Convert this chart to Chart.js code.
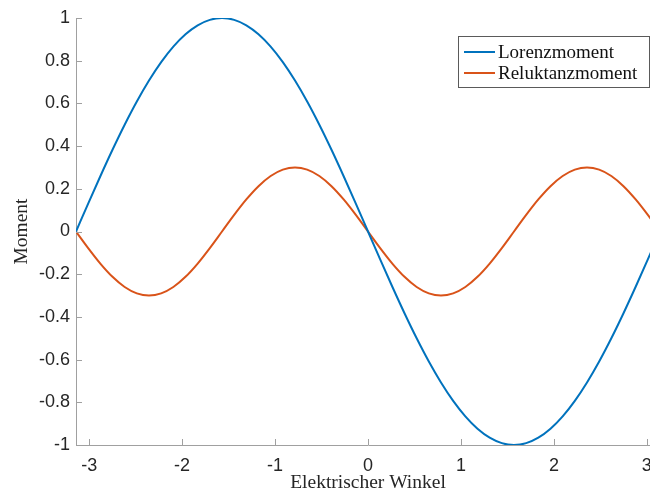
<!DOCTYPE html>
<html>
<head>
<meta charset="utf-8">
<script src="https://cdn.jsdelivr.net/npm/chart.js@4"></script>
<style>
html,body{margin:0;padding:0;overflow:hidden;background:#fff;width:650px;height:495px;}
#wrap{position:absolute;left:0;top:0;width:680px;height:495px;}
</style>
</head>
<body>
<div id="wrap"><canvas id="c" width="680" height="495"></canvas></div>
<script>
// Electrical angle samples (rad)
const winkel = [-3.1416,-3.0107,-2.8798,-2.7489,-2.6180,-2.4871,-2.3562,-2.2253,-2.0944,-1.9635,-1.8326,-1.7017,-1.5708,-1.4399,-1.3090,-1.1781,-1.0472,-0.9163,-0.7854,-0.6545,-0.5236,-0.3927,-0.2618,-0.1309,0,0.1309,0.2618,0.3927,0.5236,0.6545,0.7854,0.9163,1.0472,1.1781,1.3090,1.4399,1.5708,1.7017,1.8326,1.9635,2.0944,2.2253,2.3562,2.4871,2.6180,2.7489,2.8798,3.0107,3.1416];
const lorenzmoment = [0,0.1305,0.2588,0.3827,0.5,0.6088,0.7071,0.7934,0.8660,0.9239,0.9659,0.9914,1,0.9914,0.9659,0.9239,0.8660,0.7934,0.7071,0.6088,0.5,0.3827,0.2588,0.1305,0,-0.1305,-0.2588,-0.3827,-0.5,-0.6088,-0.7071,-0.7934,-0.8660,-0.9239,-0.9659,-0.9914,-1,-0.9914,-0.9659,-0.9239,-0.8660,-0.7934,-0.7071,-0.6088,-0.5,-0.3827,-0.2588,-0.1305,0];
const reluktanzmoment = [0,-0.0776,-0.15,-0.2121,-0.2598,-0.2898,-0.3,-0.2898,-0.2598,-0.2121,-0.15,-0.0776,0,0.0776,0.15,0.2121,0.2598,0.2898,0.3,0.2898,0.2598,0.2121,0.15,0.0776,0,-0.0776,-0.15,-0.2121,-0.2598,-0.2898,-0.3,-0.2898,-0.2598,-0.2121,-0.15,-0.0776,0,0.0776,0.15,0.2121,0.2598,0.2898,0.3,0.2898,0.2598,0.2121,0.15,0.0776,0];
const xTicks = [-3,-2,-1,0,1,2,3];
const yTicks = [-1,-0.8,-0.6,-0.4,-0.2,0,0.2,0.4,0.6,0.8,1];
const seriesNames = ['Lorenzmoment','Reluktanzmoment'];
const seriesColors = ['#0072BD','#D95319'];

const toPts = ys => winkel.map((x,i)=>({x:x,y:ys[i]}));

const AXIS_COLOR = '#a0a0a0';
const TEXT_COLOR = '#262626';
const SERIF = '"Liberation Serif", "Times New Roman", serif';
const SANS = '"Liberation Sans", Arial, sans-serif';

const inwardTicks = {
  id:'inwardTicks',
  afterDraw(chart){
    const ctx = chart.ctx, a = chart.chartArea;
    const xs = chart.scales.x, ys = chart.scales.y;
    ctx.save();
    ctx.strokeStyle = AXIS_COLOR; ctx.lineWidth = 1;
    ctx.beginPath();
    xTicks.forEach(v=>{ const p = Math.round(xs.getPixelForValue(v))+0.5; ctx.moveTo(p,a.bottom); ctx.lineTo(p,a.bottom-6); });
    yTicks.forEach(v=>{ const p = Math.round(ys.getPixelForValue(v))+0.5; ctx.moveTo(a.left,p); ctx.lineTo(a.left+6,p); });
    ctx.stroke();
    // legend box
    const bx=458.5, by=36.5, bw=191, bh=51;
    ctx.fillStyle='#fff'; ctx.fillRect(bx,by,bw,bh);
    ctx.strokeStyle='#5a5a5a'; ctx.lineWidth=1; ctx.strokeRect(bx,by,bw,bh);
    ctx.font='19px ' + SERIF;
    ctx.textBaseline='middle'; ctx.textAlign='left';
    chart.data.datasets.forEach((d,i)=>{
      const yy = 52 + i*21;
      ctx.strokeStyle=d.borderColor; ctx.lineWidth=2;
      ctx.beginPath(); ctx.moveTo(464,yy); ctx.lineTo(495,yy); ctx.stroke();
      ctx.fillStyle='#111'; ctx.fillText(d.label,498,yy+1);
    });
    ctx.restore();
  }
};

new Chart(document.getElementById('c'),{
  type:'line',
  data:{datasets:[
    {label:seriesNames[0],data:toPts(lorenzmoment),borderColor:seriesColors[0],borderWidth:2,pointRadius:0,cubicInterpolationMode:'monotone',fill:false},
    {label:seriesNames[1],data:toPts(reluktanzmoment),borderColor:seriesColors[1],borderWidth:2,pointRadius:0,cubicInterpolationMode:'monotone',fill:false}
  ]},
  options:{
    responsive:false, animation:false,
    layout:{padding:{left:0,right:20,top:18,bottom:0}},
    plugins:{legend:{display:false},tooltip:{enabled:false}},
    scales:{
      x:{type:'linear',min:-3.1416,max:3.1416,
        afterBuildTicks(s){ s.ticks = xTicks.map(v=>({value:v})); },
        afterFit(s){ s.height = 50; },
        grid:{display:false,drawTicks:false},
        border:{display:true,color:AXIS_COLOR,width:1},
        ticks:{padding:10,color:TEXT_COLOR,font:{family:SANS,size:18},callback:v=>String(v),maxRotation:0},
        title:{display:true,text:'Elektrischer Winkel',color:TEXT_COLOR,font:{family:SERIF,size:19.5},padding:{top:0,bottom:0}}
      },
      y:{type:'linear',min:-1,max:1,
        afterBuildTicks(s){ s.ticks = yTicks.map(v=>({value:v})); },
        afterFit(s){ s.width = 76; },
        grid:{display:false,drawTicks:false},
        border:{display:true,color:AXIS_COLOR,width:1},
        ticks:{padding:6,color:TEXT_COLOR,font:{family:SANS,size:18},callback:v=>String(Number(v.toFixed(1)))},
        title:{display:true,text:'Moment',color:TEXT_COLOR,font:{family:SERIF,size:19.5},padding:{top:10,bottom:0}}
      }
    }
  },
  plugins:[inwardTicks]
});
</script>
</body>
</html>
